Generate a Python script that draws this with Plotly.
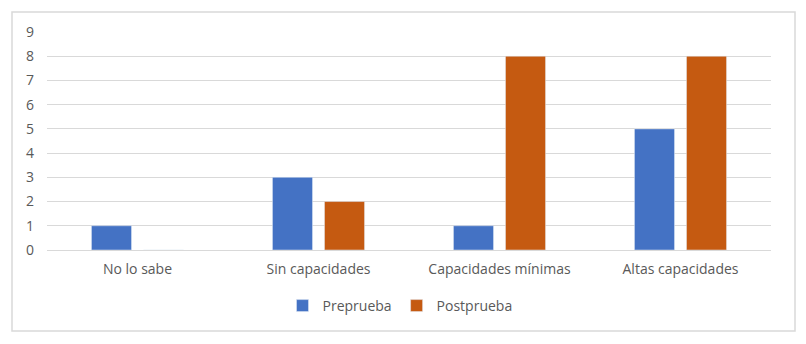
import plotly.graph_objects as go

categories = ["No lo sabe", "Sin capacidades", "Capacidades mínimas", "Altas capacidades"]
preprueba = [1, 3, 1, 5]
postprueba = [0, 2, 8, 8]

fig = go.Figure()
fig.add_trace(go.Bar(name="Preprueba", x=categories, y=preprueba, marker_color="#4472C4"))
fig.add_trace(go.Bar(name="Postprueba", x=categories, y=postprueba, marker_color="#C55A11"))

W, H = 806, 344
L, R, T, B = 47, 35, 32, 94
pw, ph = W - L - R, H - T - B

def px(x):
    return (x - L) / pw

def py(y):
    return (H - B - y) / ph

fig.update_layout(
    width=W, height=H,
    margin=dict(l=L, r=R, t=T, b=B),
    paper_bgcolor="white", plot_bgcolor="white",
    font=dict(family="Open Sans, Liberation Sans, sans-serif", size=14, color="#595959"),
    barmode="group", bargap=0.425, bargroupgap=0.23,
    showlegend=True,
    legend=dict(orientation="h", x=px(400), xanchor="center", y=py(306), yanchor="middle",
                font=dict(size=14, color="#595959"), itemwidth=30),
    xaxis=dict(showgrid=False, showline=True, linecolor="#D9D9D9", linewidth=1,
               ticks="", ticklabelstandoff=6, tickfont=dict(size=14, color="#595959")),
    yaxis=dict(range=[0, 9], dtick=1, showgrid=True, gridcolor="#D9D9D9", gridwidth=1,
               zeroline=False, showline=False, ticks="", ticklabelstandoff=12,
               tickfont=dict(size=14, color="#595959")),
    shapes=[dict(type="rect", xref="paper", yref="paper",
                 x0=px(12), x1=px(795), y0=py(331), y1=py(12),
                 line=dict(color="#D9D9D9", width=1.5), fillcolor="rgba(0,0,0,0)", layer="below")],
)

fig.write_html("out.html", config={"displayModeBar": False},
               post_script="document.body.style.margin='0';document.body.style.padding='0';")
